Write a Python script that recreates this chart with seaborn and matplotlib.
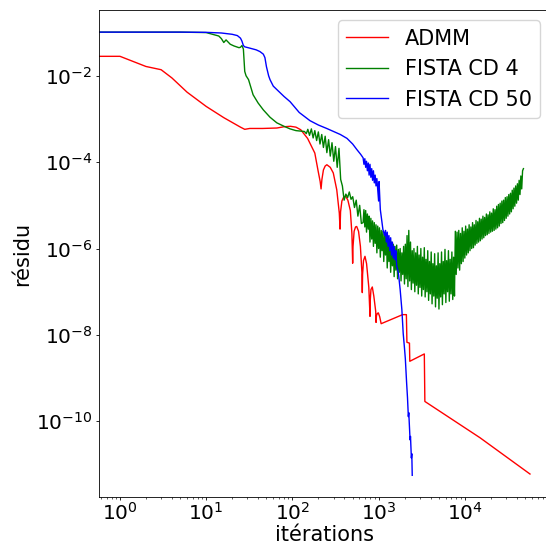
import numpy as np
import pandas as pd
import matplotlib
matplotlib.use("Agg")
import matplotlib.pyplot as plt
import seaborn as sns

# Residuals are stored as base-10 exponents, iterations as raw counts.
admm_iter = [0, 1, 2, 3, 4, 6, 10, 16, 25, 28,
             32, 45, 66, 80, 95, 110, 125, 150, 182, 199,
             210, 215, 220, 229, 240, 251, 275, 298, 327, 350,
             357, 362, 375, 395, 415, 440, 470, 490, 500, 505,
             520, 540, 557, 585, 615, 640, 647, 652, 668, 695,
             725, 770, 795, 800, 815, 845, 880, 925, 934, 945,
             970, 993, 1030, 1070, 1900, 2100, 2130, 2280, 2300, 3390,
             3440, 15000, 57000]
admm_log_res = [-1.55, -1.55, -1.785, -1.86, -2.05, -2.38, -2.71, -2.97, -3.19, -3.24,
                -3.22, -3.22, -3.21, -3.18, -3.17, -3.19, -3.25, -3.45, -3.79, -4.21,
                -4.45, -4.62, -4.40, -4.18, -4.09, -4.06, -4.12, -4.25, -4.64, -5.18,
                -5.55, -5.15, -4.90, -4.80, -4.79, -4.88, -5.12, -5.65, -6.34, -5.95,
                -5.60, -5.50, -5.49, -5.60, -5.95, -6.55, -7.02, -6.60, -6.28, -6.18,
                -6.35, -6.90, -7.57, -7.20, -6.95, -6.89, -7.10, -7.45, -7.71, -7.55,
                -7.50, -7.49, -7.58, -7.74, -7.53, -7.53, -8.17, -8.19, -8.61, -8.44,
                -9.54, -10.38, -11.22]

cd4_iter = [0, 1, 5, 10, 14, 15, 16, 17, 18, 19,
            21, 24, 25, 26, 27, 28, 29, 31, 35, 40,
            46, 55, 66, 80, 94, 110,
            138, 145, 151, 158, 166, 174, 182, 191, 200, 209,
            219, 229, 240, 251, 263, 275, 288, 302, 316, 331,
            347, 363, 380, 398, 417, 437, 457, 479, 501, 525,
            550, 575, 603, 631, 661,
            676, 692, 708, 724, 741, 759, 776, 794, 813, 832,
            851, 871, 891, 912, 933, 955, 977,
            1000, 1023, 1047, 1072, 1096, 1122, 1148, 1175, 1202, 1230,
            1259, 1288, 1318, 1349, 1380, 1413, 1445, 1479, 1514, 1549,
            1585, 1622, 1660, 1698, 1738, 1778, 1820, 1862, 1905, 1950,
            1995, 2042, 2089, 2138, 2188, 2239, 2291, 2344, 2399, 2455,
            2512, 2570, 2630, 2692, 2754, 2818, 2884, 2951, 3020, 3090,
            3162, 3236, 3311, 3388, 3467, 3548, 3631, 3715, 3802, 3890,
            3981, 4074, 4169, 4266, 4365, 4467, 4571, 4677, 4786, 4898,
            5012, 5129, 5248, 5370, 5495, 5623, 5754, 5888, 6026, 6166,
            6310, 6457, 6607, 6761, 6918, 7079, 7244, 7413, 7586, 7762,
            7943, 8128, 8318, 8511, 8710, 8913, 9120, 9333, 9550, 9772,
            10000, 10230, 10470, 10720, 10960, 11220, 11480, 11750, 12020, 12300,
            12590, 12880, 13180, 13490, 13800, 14130, 14450, 14790, 15140, 15490,
            15850, 16220, 16600, 16980, 17380, 17780, 18200, 18620, 19050, 19500,
            19950, 20420, 20890, 21380, 21880, 22390, 22910, 23440, 23990, 24550,
            25120, 25700, 26300, 26920, 27540, 28180, 28840, 29510, 30200, 30900,
            31620, 32360, 33110, 33880, 34670, 35480, 36310, 37150, 38020, 38900,
            39810, 40740, 41690, 42660, 43650, 44670, 45710, 46770, 47860]
cd4_log_res = [-0.99, -0.99, -0.99, -1.0, -1.08, -1.14, -1.23, -1.17, -1.22, -1.27,
               -1.31, -1.35, -1.34, -1.30, -1.38, -1.90, -2.00, -2.09, -2.44, -2.63,
               -2.79, -2.96, -3.09, -3.17, -3.23, -3.27,
               -3.29, -3.34, -3.24, -3.38, -3.23, -3.44, -3.27, -3.50, -3.30, -3.58,
               -3.36, -3.66, -3.40, -3.78, -3.48, -3.86, -3.55, -3.98, -3.64, -4.12,
               -3.68, -4.40, -4.55, -4.88, -4.74, -4.82, -4.69, -4.86, -4.80, -5.05,
               -4.88, -5.25, -5.00, -5.42, -5.40,
               -5.10, -5.50, -5.12, -5.62, -5.20, -5.55, -5.25, -5.85, -5.30, -5.78,
               -5.36, -5.95, -5.40, -5.88, -5.45, -6.10, -5.48,
               -6.00, -5.52, -6.20, -5.58, -6.05, -5.60, -6.30, -5.66, -6.15, -5.70,
               -6.45, -5.75, -6.30, -5.80, -6.55, -5.85, -6.40, -5.90, -6.65, -5.95,
               -6.50, -5.92, -6.70, -6.02, -6.55, -6.00, -6.75, -6.10, -6.60, -5.95,
               -6.82, -5.90, -6.70, -5.70, -6.88, -5.58, -6.75, -5.85, -6.95, -6.05,
               -6.80, -6.00, -7.00, -6.10, -6.85, -5.95, -7.05, -6.15, -6.90, -6.00,
               -7.10, -6.20, -6.95, -5.98, -7.12, -6.25, -7.00, -6.05, -7.20, -6.30,
               -7.05, -6.08, -7.28, -6.35, -7.10, -6.12, -7.35, -6.40, -7.15, -6.10,
               -7.40, -6.35, -7.12, -6.08, -7.30, -6.30, -7.05, -6.02, -7.25, -6.28,
               -7.00, -6.05, -7.22, -6.25, -7.05, -6.08, -7.18, -6.20, -7.10, -5.60,
               -6.60, -5.62, -6.45, -5.58, -6.50, -5.65, -6.35, -5.52, -6.30, -5.60,
               -6.22, -5.48, -6.15, -5.55, -6.10, -5.45, -6.05, -5.50, -6.00, -5.40,
               -5.98, -5.45, -5.92, -5.35, -5.88, -5.38, -5.85, -5.30, -5.82, -5.32,
               -5.78, -5.25, -5.75, -5.28, -5.70, -5.20, -5.68, -5.22, -5.65, -5.15,
               -5.62, -5.18, -5.60, -5.08, -5.58, -5.10, -5.55, -5.02, -5.52, -4.98,
               -5.48, -4.95, -5.42, -4.90, -5.40, -4.88, -5.35, -4.82, -5.30, -4.80,
               -5.25, -4.75, -5.20, -4.72, -5.15, -4.65, -5.08, -4.60, -5.02, -4.55,
               -4.95, -4.50, -4.88, -4.42, -4.75, -4.32, -4.62, -4.20, -4.15]

cd50_iter = [0, 1, 5, 10, 15, 20, 23, 25, 26, 27,
             28, 32, 38, 42, 46, 48, 50, 53, 55, 60,
             66, 80, 94, 120, 160, 200, 250, 300, 360, 430,
             500, 560, 620,
             661, 676, 692, 708, 724, 741, 759, 776, 794, 813,
             832, 851, 871, 891, 912, 933, 955,
             1000, 1012, 1047, 1122,
             1175, 1202, 1230, 1259, 1288, 1318, 1349, 1380, 1413, 1445,
             1479, 1514, 1549, 1585, 1622,
             1698, 1778, 1862, 1928, 1995, 2042, 2113, 2163, 2213, 2239,
             2317, 2344, 2399, 2427, 2455]
cd50_log_res = [-0.99, -0.99, -0.99, -0.995, -1.01, -1.04, -1.07, -1.13, -1.20, -1.30,
                -1.33, -1.36, -1.40, -1.44, -1.50, -1.58, -1.79, -2.00, -2.09, -2.24,
                -2.32, -2.48, -2.60, -2.85, -3.04, -3.14, -3.22, -3.29, -3.36, -3.45,
                -3.58, -3.71, -3.82,
                -3.90, -4.05, -3.92, -4.12, -3.98, -4.20, -4.02, -4.30, -4.05, -4.35,
                -4.15, -4.42, -4.20, -4.48, -4.30, -4.55, -4.38,
                -4.90, -4.45, -5.10, -5.56,
                -5.70, -5.58, -5.85, -5.62, -5.95, -5.70, -6.05, -5.75, -6.15, -5.85,
                -6.22, -5.95, -6.26, -6.05, -6.40,
                -6.57, -6.95, -7.42, -7.96, -8.30, -8.55, -9.11, -9.45, -9.89, -9.80,
                -10.43, -10.35, -10.85, -10.75, -11.25]

methods = ["ADMM", "FISTA CD 4", "FISTA CD 50"]
colors = ["red", "green", "blue"]

series = [(admm_iter, admm_log_res), (cd4_iter, cd4_log_res), (cd50_iter, cd50_log_res)]
frames = []
for name, (it, lr) in zip(methods, series):
    frames.append(pd.DataFrame({
        "itérations": np.asarray(it, dtype=float),
        "résidu": 10.0 ** np.asarray(lr, dtype=float),
        "méthode": name,
    }))
df = pd.concat(frames, ignore_index=True)

plt.rcParams.update({
    "axes.linewidth": 0.6,
    "xtick.major.size": 2.5, "ytick.major.size": 2.5,
    "xtick.minor.size": 1.45, "ytick.minor.size": 1.45,
    "xtick.major.width": 0.6, "ytick.major.width": 0.6,
    "xtick.minor.width": 0.45, "ytick.minor.width": 0.45,
    "xtick.major.pad": 0.6, "ytick.major.pad": 2.5,
})

fig = plt.figure(figsize=(5.46, 5.45), dpi=100)
ax = fig.add_axes([0.1822, 0.0872, 0.826, 0.8945])

sns.lineplot(data=df, x="itérations", y="résidu", hue="méthode",
             hue_order=methods, palette=dict(zip(methods, colors)),
             estimator=None, sort=False, errorbar=None, linewidth=1.0, ax=ax)
ax.set_xscale("log")
ax.set_yscale("log")

ax.set_xlabel("itérations", fontsize=15, labelpad=1.0)
ax.set_ylabel("résidu", fontsize=15, labelpad=3.0)
ax.tick_params(labelsize=14.5)

leg = ax.get_legend()
handles = leg.legend_handles
labels = [t.get_text() for t in leg.get_texts()]
leg.remove()
ax.legend(handles, labels, loc="upper right", fontsize=15)

fig.savefig("out.png", dpi=100)
